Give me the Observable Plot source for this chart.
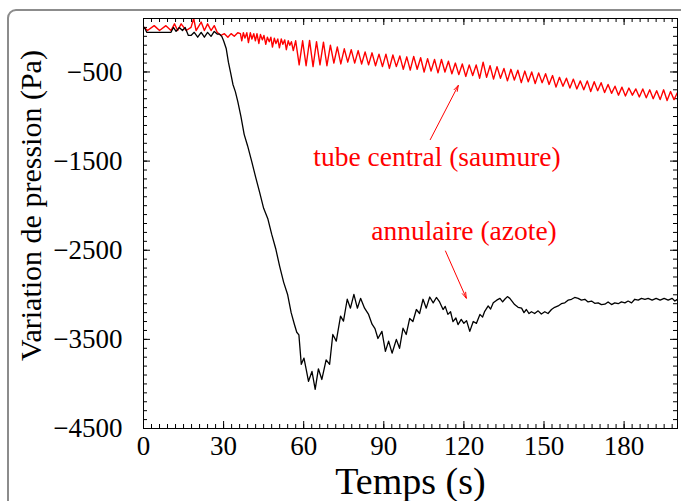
<!DOCTYPE html>
<html>
<head>
<meta charset="utf-8">
<script src="https://cdn.jsdelivr.net/npm/d3@7"></script>
<script src="https://cdn.jsdelivr.net/npm/@observablehq/plot@0.6"></script>
<style>
  html, body { margin: 0; padding: 0; background: #fff; }
  #wrap { position: relative; width: 681px; height: 501px; overflow: hidden; background: #fff; }
  #border { position: absolute; left: 7px; top: 9px; width: 900px; height: 700px;
            border: 2px solid #8c8c8c; border-radius: 9px; box-sizing: border-box; }
  #chart { position: absolute; left: 0; top: 0; }
</style>
</head>
<body>
<div id="wrap"><div id="border"></div><div id="chart"></div></div>
<script>
// ---- data (time in s, pressure variation in Pa) ----
const xTickLabels = [0, 30, 60, 90, 120, 150, 180];
const yTickLabels = [-500, -1500, -2500, -3500, -4500];
const xMinorTicks = d3.range(0, 200, 3);
const yMinorTicks = d3.range(-4500, 101, 100);

// annulaire (azote) — black
const annulaire = [
[0,-10],[0.4,0],[1.2,-55],[10.3,-55],[11.2,0],[12.2,-45],[13.4,0],[14.6,-35],[15.6,0],[16.8,-90],[17.8,-90],
[19,-55],[20.3,-110],[21.6,-55],[22.8,-110],[24,-55],[25.3,-100],[26.5,-45],[27.6,-75],[28.5,-75],[29.3,-100],
[30,-150],[31,-240],[31.8,-390],[32.6,-505],[33.5,-640],[34.4,-720],[35.3,-830],[36.5,-1000],[37.7,-1200],
[39,-1330],[40.5,-1500],[42,-1680],[43.5,-1850],[45,-2030],[46.6,-2150],[48,-2320],[49.5,-2480],[51,-2680],
[52.5,-2860],[54,-3000],[55.3,-3200],[56.5,-3330],[57.4,-3420],[58.2,-3450],[59.1,-3780],[60.1,-3710],
[60.9,-3830],[61.8,-3970],[63.1,-3860],[64.3,-4060],[65.5,-3830],[66.8,-3950],[68.4,-3730],[69.7,-3780],
[70.9,-3445],[72.2,-3520],[73.8,-3240],[74.9,-3295],[76.3,-3050],[77.5,-3150],[78.8,-2995],[80.1,-3150],
[81.3,-3040],[82.8,-3150],[84.3,-3220],[85.6,-3330],[86.7,-3380],[87.8,-3490],[89.3,-3410],[90.6,-3635],
[91.8,-3520],[93.1,-3655],[94.7,-3500],[95.9,-3600],[97.2,-3375],[98.4,-3445],[99.7,-3265],[100.9,-3300],
[102.2,-3165],[103.4,-3210],[104.7,-3050],[105.9,-3150],[107.2,-3025],[108.5,-3090],[109.7,-3030],
[110.9,-3080],[112.2,-3165],[113,-3130],[114,-3220],[115,-3190],[115.9,-3300],[117,-3260],[117.8,-3335],
[119,-3275],[120,-3320],[121,-3290],[122.2,-3410],[123.5,-3300],[124.7,-3320],[126,-3220],[127,-3250],
[127.8,-3185],[129.1,-3125],[130,-3160],[131,-3090],[132.3,-3060],[133.5,-3040],[134.5,-3080],[135.3,-3050],
[136.3,-3020],[137.2,-3040],[138,-3070],[139,-3110],[140.3,-3140],[141.6,-3150],[142.5,-3200],[143.4,-3165],
[144.4,-3210],[145.3,-3190],[146.5,-3210],[147.8,-3180],[149,-3215],[150.3,-3190],[151.5,-3210],
[152.8,-3165],[154,-3140],[155.3,-3125],[156.5,-3100],[157.8,-3090],[159,-3060],[160.3,-3050],[161.5,-3030],
[162.8,-3040],[164,-3060],[165.3,-3050],[166.5,-3080],[167.8,-3070],[169,-3095],[170.3,-3090],[171.5,-3110],
[172.8,-3105],[174,-3080],[175.3,-3110],[176.5,-3090],[177.8,-3100],[179,-3080],[180.3,-3090],[181.5,-3070],
[182.8,-3090],[184,-3050],[185.3,-3060],[186.5,-3040],[187.8,-3050],[189,-3040],[190.5,-3060],[192,-3040],
[193.5,-3060],[195,-3040],[196.5,-3060],[198,-3040],[199,-3070],[200,-3050]
];

// tube central (saumure) — red
const tubeCentral = [
[0,-10],[0.3,0],[1.5,-35],[4,20],[6,-35],[8.4,20],[10.3,-35],[11.6,40],[12.8,-35],[14.1,40],[16,-35],[17.8,0],
[18.8,100],[19.7,-35],[21.6,60],[22.8,-35],[24,40],[25.3,-35],[26.5,20],[27.6,-55],[29,-90],[30.3,-70],
[31.6,-110],[32.8,-70],[34,-100],[35.3,-60],[36.3,-70],
[36.8,-150],[37.4,-60],[38,-120],[38.7,-60],[39.3,-170],[40,-60],[40.6,-130],[41.3,-70],[41.9,-150],
[42.5,-70],[43.2,-180],[43.8,-80],[44.5,-140],[45.1,-90],[45.8,-190],[46.4,-110],[47.1,-160],[47.7,-110],
[48.3,-220],[49,-120],[49.6,-180],[50.3,-130],[50.9,-230],[51.6,-130],[52.2,-190],[52.9,-140],[53.5,-250],
[54.2,-150],[54.8,-200],[55.4,-160],[56.1,-260],
[57,-150],[58.3,-420],[59.6,-150],[60.9,-430],[62.2,-145],[63.5,-440],[64.8,-160],[66.1,-420],[67.4,-165],
[68.7,-430],[70,-200],[71.3,-400],[72.6,-220],[73.9,-410],[75.2,-240],[76.5,-390],[77.8,-250],[79.1,-400],
[80.4,-260],[81.7,-410],[83,-275],[84.3,-420],[85.6,-285],[86.9,-430],[88.2,-300],[89.5,-440],[90.8,-300],
[92.1,-460],[93.4,-310],[94.7,-440],[96,-320],[97.3,-470],[98.6,-330],[99.9,-480],[101.2,-325],[102.5,-470],
[103.8,-340],[105.1,-500],[106.4,-350],[107.7,-490],[109,-360],[110.3,-510],[111.6,-360],[112.9,-500],
[114.2,-380],[115.5,-520],[116.8,-400],[118.1,-530],[119.4,-410],[120.7,-550],[122,-420],[123.3,-540],
[124.6,-420],[125.9,-570],[127.2,-390],[128.5,-560],[129.8,-430],[131.1,-580],[132.4,-440],[133.7,-570],
[135,-460],[136.3,-600],[137.6,-470],[138.9,-590],[140.2,-480],[141.5,-620],[142.8,-490],[144.1,-610],
[145.4,-500],[146.7,-630],[148,-510],[149.3,-620],[150.6,-520],[151.9,-640],[153.2,-540],[154.5,-670],
[155.8,-560],[157.1,-660],[158.4,-570],[159.7,-680],[161,-580],[162.3,-690],[163.6,-600],[164.9,-700],
[166.2,-600],[167.5,-720],[168.8,-610],[170.1,-710],[171.4,-620],[172.7,-730],[174,-640],[175.3,-740],
[176.6,-660],[177.9,-760],[179.2,-670],[180.5,-770],[181.8,-680],[183.1,-760],[184.4,-690],[185.7,-780],
[187,-690],[188.3,-790],[189.6,-700],[190.9,-800],[192.2,-710],[193.5,-810],[194.8,-700],[196.1,-820],
[197.4,-720],[198.7,-810],[200,-730]
];

// annotations: label position (t, v) and arrow (tail -> head)
const labels = [
  {text: "tube central (saumure)", t: 63.6, v: -1455},
  {text: "annulaire (azote)", t: 85.3, v: -2288}
];
const arrows = [
  {t1: 107.4, v1: -1259, t2: 117.9, v2: -651},
  {t1: 113.1, v1: -2509, t2: 120.9, v2: -3038}
];

// ---- chart ----
const W = 681, H = 501;
const mL = 143, mR = 4, mT = 18, mB = 73;
const pw = W - mL - mR, ph = H - mT - mB;
const fmt = d => d < 0 ? "\u2212" + Math.abs(d) : String(d);
const serif = "'Liberation Serif', 'Times New Roman', serif";

const chart = Plot.plot({
  width: W, height: H,
  marginLeft: mL, marginRight: mR, marginTop: mT, marginBottom: mB,
  style: {fontFamily: serif, background: "transparent", color: "black"},
  x: {domain: [0, 200], label: null},
  y: {domain: [-4500, 100], label: null},
  marks: [
    // inward ticks (minor + major) on all four sides
    Plot.tickY(yMinorTicks, {stroke: "black", insetRight: pw - 4}),
    Plot.tickY(yMinorTicks, {stroke: "black", insetLeft: pw - 4}),
    Plot.tickY(yTickLabels, {stroke: "black", insetRight: pw - 7}),
    Plot.tickY(yTickLabels, {stroke: "black", insetLeft: pw - 7}),
    Plot.tickX(xMinorTicks, {stroke: "black", insetTop: ph - 4}),
    Plot.tickX(xMinorTicks, {stroke: "black", insetBottom: ph - 4}),
    Plot.tickX(xTickLabels, {stroke: "black", insetTop: ph - 7}),
    Plot.tickX(xTickLabels, {stroke: "black", insetBottom: ph - 7}),
    Plot.axisY(yTickLabels, {anchor: "left", tickSize: 0, tickPadding: 21, fontSize: 27, tickFormat: fmt, label: null}),
    Plot.axisX(xTickLabels, {anchor: "bottom", tickSize: 0, tickPadding: 7, fontSize: 27, tickFormat: fmt, label: null}),
    Plot.line(tubeCentral, {x: d => d[0], y: d => d[1], stroke: "#ff0000", strokeWidth: 1.4, clip: true}),
    Plot.line(annulaire, {x: d => d[0], y: d => d[1], stroke: "black", strokeWidth: 1.3, clip: true}),
    Plot.frame({stroke: "black", strokeWidth: 1}),
    Plot.text(labels, {x: "t", y: "v", text: "text", textAnchor: "start", lineAnchor: "middle", fill: "#ff0000", fontSize: 27.5}),
    Plot.arrow(arrows, {x1: "t1", y1: "v1", x2: "t2", y2: "v2", stroke: "#ff0000", strokeWidth: 1, headLength: 9, headAngle: 35}),
    Plot.text(["Temps (s)"], {frameAnchor: "bottom", textAnchor: "middle", dy: 53, lineAnchor: "middle", fontSize: 38, fill: "black"}),
    Plot.text(["Variation de pression (Pa)"], {frameAnchor: "left", textAnchor: "middle", rotate: -90, dx: -112, dy: -18, lineAnchor: "middle", fontSize: 30, fill: "black"})
  ]
});
document.getElementById("chart").appendChild(chart);
</script>
</body>
</html>
